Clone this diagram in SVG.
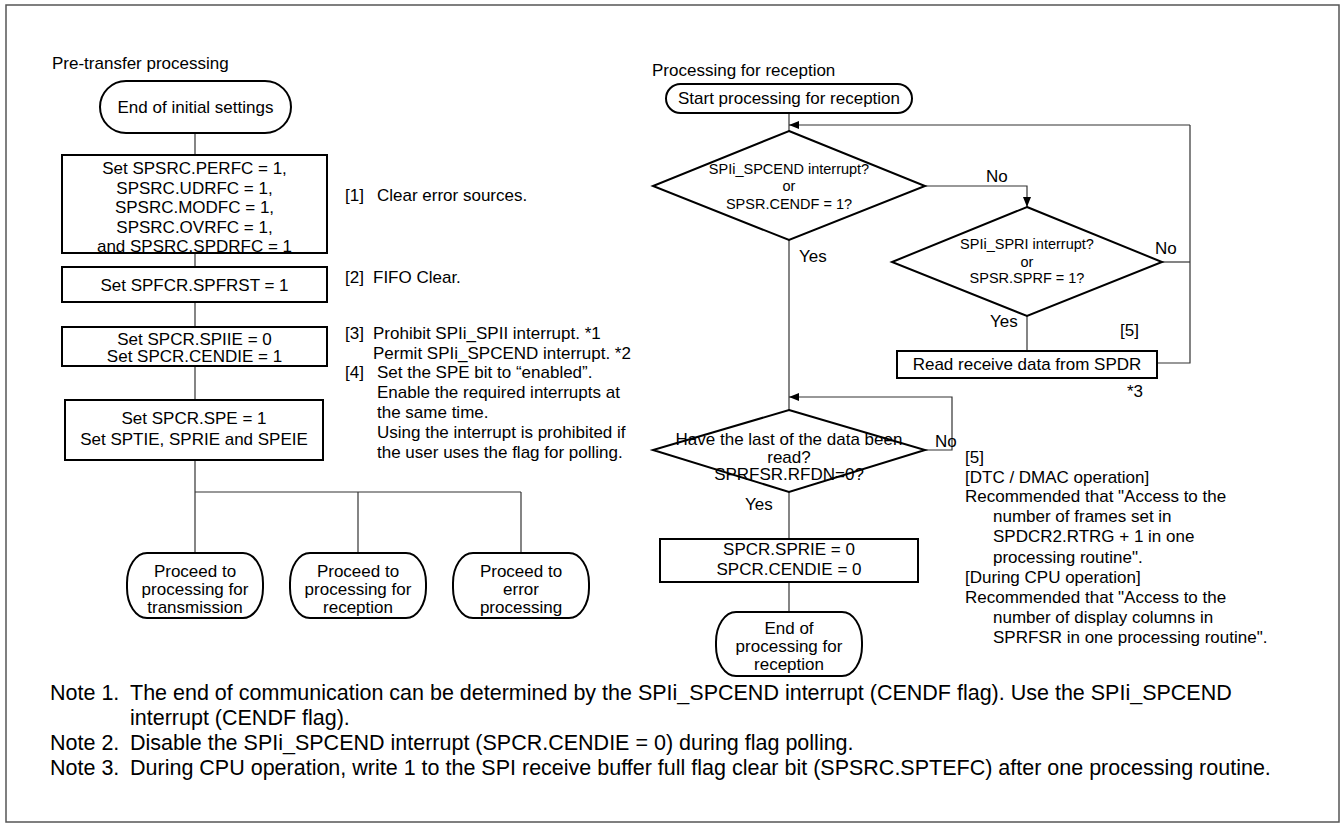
<svg xmlns="http://www.w3.org/2000/svg" width="1343" height="827" viewBox="0 0 1343 827">
<defs>
<marker id="ah" markerWidth="10" markerHeight="8" refX="10" refY="4" orient="auto" markerUnits="userSpaceOnUse">
<path d="M0,0 L10,4 L0,8 Z" fill="#000"/>
</marker>
<style>
text{font-family:"Liberation Sans",Arial,sans-serif;font-size:17px;fill:#000}
.c{text-anchor:middle}
.d{font-size:14.5px}
.n{font-size:21.5px}
.box{fill:#fff;stroke:#000;stroke-width:2}
.ln{fill:none;stroke:#333;stroke-width:1.2}
.arr{fill:none;stroke:#333;stroke-width:1.2;marker-end:url(#ah)}
</style>
</defs>
<rect x="6" y="5" width="1333" height="817" fill="#fff" stroke="#555" stroke-width="1.5"/>

<g id="connectors">
<line class="ln" x1="195" y1="133" x2="195" y2="155"/>
<line class="ln" x1="195" y1="253" x2="195" y2="267"/>
<line class="ln" x1="195" y1="302" x2="195" y2="327"/>
<line class="ln" x1="195" y1="366" x2="195" y2="400"/>
<line class="ln" x1="195" y1="460" x2="195" y2="492"/>
<line class="ln" x1="195" y1="492" x2="521" y2="492"/>
<line class="ln" x1="195" y1="492" x2="195" y2="553"/>
<line class="ln" x1="358" y1="492" x2="358" y2="553"/>
<line class="ln" x1="521" y1="492" x2="521" y2="553"/>
<line class="ln" x1="789" y1="113" x2="789" y2="131"/>
<polyline class="arr" points="1190,125 789,125"/>
<polyline class="arr" points="925,186 1027,186 1027,207"/>
<polyline class="ln" points="1162,262 1190,262"/>
<polyline class="ln" points="1157,363 1190,363 1190,125"/>
<line class="ln" x1="1027" y1="316" x2="1027" y2="351"/>
<line class="ln" x1="789" y1="240" x2="789" y2="410"/>
<polyline class="arr" points="925,450 952,450 952,397 789,397"/>
<line class="ln" x1="789" y1="492" x2="789" y2="539"/>
<line class="ln" x1="789" y1="582" x2="789" y2="612"/>
</g>

<text x="52" y="69">Pre-transfer processing</text>
<text x="652" y="76">Processing for reception</text>

<g id="end-initial">
<rect class="box" x="100" y="81" width="191" height="52" rx="26" ry="26"/>
<text class="c" x="195.5" y="113">End of initial settings</text>
</g>
<g id="clear-errors">
<rect class="box" x="62" y="155" width="265" height="98"/>
<text class="c" x="194.5" y="174">Set SPSRC.PERFC = 1,</text>
<text class="c" x="194.5" y="193.5">SPSRC.UDRFC = 1,</text>
<text class="c" x="194.5" y="213">SPSRC.MODFC = 1,</text>
<text class="c" x="194.5" y="232.5">SPSRC.OVRFC = 1,</text>
<text class="c" x="194.5" y="252">and SPSRC.SPDRFC = 1</text>
</g>
<g id="fifo-clear">
<rect class="box" x="62" y="267" width="265" height="35"/>
<text class="c" x="194.5" y="291">Set SPFCR.SPFRST = 1</text>
</g>
<g id="spcr-set">
<rect class="box" x="62" y="327" width="265" height="39"/>
<text class="c" x="194.5" y="345">Set SPCR.SPIIE = 0</text>
<text class="c" x="194.5" y="362">Set SPCR.CENDIE = 1</text>
</g>
<g id="spe-set">
<rect class="box" x="65" y="400" width="258" height="60"/>
<text class="c" x="194" y="424">Set SPCR.SPE = 1</text>
<text class="c" x="194" y="445">Set SPTIE, SPRIE and SPEIE</text>
</g>
<g id="go-tx">
<rect class="box" x="127" y="553" width="136" height="65" rx="20" ry="30"/>
<text class="c" x="195" y="577">Proceed to</text>
<text class="c" x="195" y="595">processing for</text>
<text class="c" x="195" y="613">transmission</text>
</g>
<g id="go-rx">
<rect class="box" x="290" y="553" width="136" height="65" rx="20" ry="30"/>
<text class="c" x="358" y="577">Proceed to</text>
<text class="c" x="358" y="595">processing for</text>
<text class="c" x="358" y="613">reception</text>
</g>
<g id="go-err">
<rect class="box" x="453" y="553" width="136" height="65" rx="20" ry="30"/>
<text class="c" x="521" y="577">Proceed to</text>
<text class="c" x="521" y="595">error</text>
<text class="c" x="521" y="613">processing</text>
</g>

<g id="notes-left">
<text x="345" y="201">[1]</text><text x="377" y="201">Clear error sources.</text>
<text x="345" y="283">[2]</text><text x="373" y="283">FIFO Clear.</text>
<text x="345" y="339">[3]</text><text x="373" y="339">Prohibit SPIi_SPII interrupt. *1</text>
<text x="373" y="359">Permit SPIi_SPCEND interrupt. *2</text>
<text x="345" y="378">[4]</text><text x="377" y="378">Set the SPE bit to “enabled”.</text>
<text x="377" y="398">Enable the required interrupts at</text>
<text x="377" y="418">the same time.</text>
<text x="377" y="438">Using the interrupt is prohibited if</text>
<text x="377" y="458">the user uses the flag for polling.</text>
</g>

<g id="start-rx">
<rect class="box" x="666" y="84" width="246" height="29" rx="14.5" ry="14.5"/>
<text class="c" x="789" y="104">Start processing for reception</text>
</g>
<g id="dec-cend">
<polygon class="box" points="789,131 925,186 789,240 653,186"/>
<text class="c d" x="789" y="174">SPIi_SPCEND interrupt?</text>
<text class="c d" x="789" y="191">or</text>
<text class="c d" x="789" y="209">SPSR.CENDF = 1?</text>
</g>
<text x="799" y="262">Yes</text>
<text x="986" y="182">No</text>
<g id="dec-sprf">
<polygon class="box" points="1027,207 1162,262 1027,316 892,262"/>
<text class="c d" x="1027" y="249">SPIi_SPRI interrupt?</text>
<text class="c d" x="1027" y="267">or</text>
<text class="c d" x="1027" y="283">SPSR.SPRF = 1?</text>
</g>
<text x="1155" y="254">No</text>
<text x="990" y="327">Yes</text>
<text x="1120" y="336">[5]</text>
<g id="read-data">
<rect class="box" x="897" y="351" width="260" height="27"/>
<text class="c" x="1027" y="370">Read receive data from SPDR</text>
</g>
<text x="1127" y="397">*3</text>
<g id="dec-last">
<polygon class="box" points="789,410 925,450 789,492 653,450"/>
<text class="c" x="789" y="445">Have the last of the data been</text>
<text class="c" x="789" y="463">read?</text>
<text class="c" x="789" y="480">SPRFSR.RFDN=0?</text>
</g>
<text x="935" y="447">No</text>
<text x="745" y="510">Yes</text>
<g id="disable-int">
<rect class="box" x="660" y="539" width="258" height="43"/>
<text class="c" x="789" y="555">SPCR.SPRIE = 0</text>
<text class="c" x="789" y="575">SPCR.CENDIE = 0</text>
</g>
<g id="end-rx">
<rect class="box" x="716" y="612" width="146" height="64" rx="20" ry="30"/>
<text class="c" x="789" y="634">End of</text>
<text class="c" x="789" y="652">processing for</text>
<text class="c" x="789" y="670">reception</text>
</g>

<g id="notes-right">
<text x="965" y="463">[5]</text>
<text x="965" y="483">[DTC / DMAC operation]</text>
<text x="965" y="502">Recommended that "Access to the</text>
<text x="993" y="522">number of frames set in</text>
<text x="993" y="542">SPDCR2.RTRG + 1 in one</text>
<text x="993" y="563">processing routine".</text>
<text x="965" y="583">[During CPU operation]</text>
<text x="965" y="603">Recommended  that "Access to the</text>
<text x="993" y="623">number of display columns in</text>
<text x="993" y="643">SPRFSR in one processing routine".</text>
</g>

<g id="notes-bottom">
<text class="n" x="50" y="700">Note 1.</text><text class="n" x="130" y="700">The end of communication can be determined by the SPIi_SPCEND interrupt (CENDF flag). Use the SPIi_SPCEND</text>
<text class="n" x="130" y="725">interrupt (CENDF flag).</text>
<text class="n" x="50" y="750">Note 2.</text><text class="n" x="130" y="750">Disable the SPIi_SPCEND interrupt (SPCR.CENDIE = 0) during flag polling.</text>
<text class="n" x="50" y="775">Note 3.</text><text class="n" x="130" y="775">During CPU operation, write 1 to the SPI receive buffer full flag clear bit (SPSRC.SPTEFC) after one processing routine.</text>
</g>
</svg>
